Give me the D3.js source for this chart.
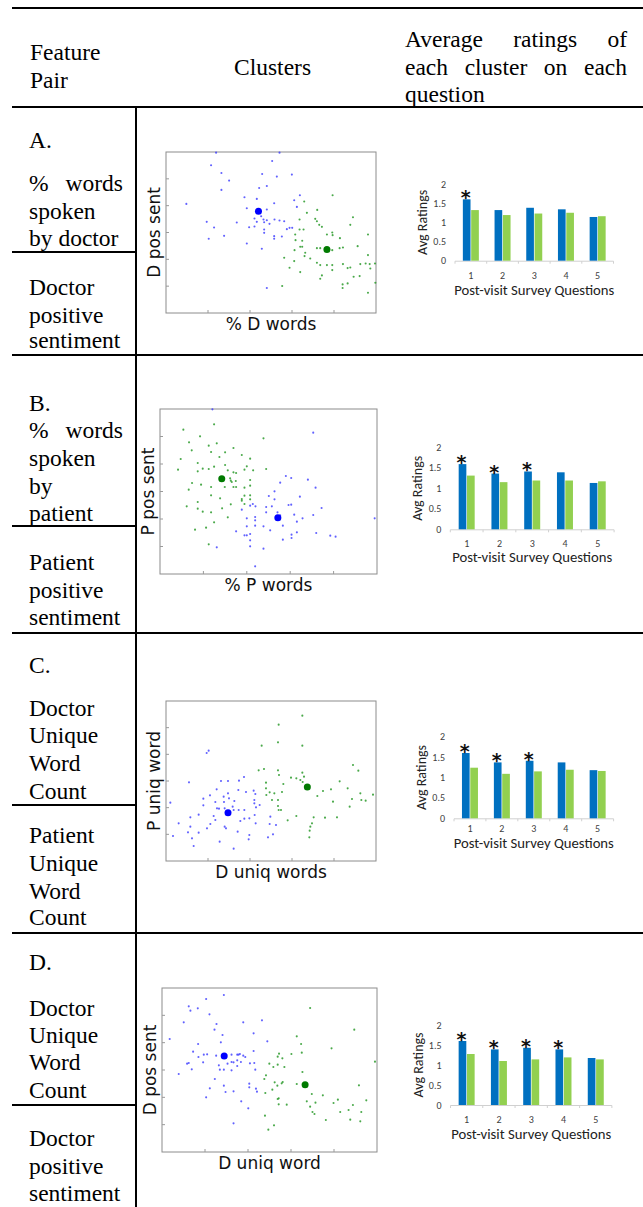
<!DOCTYPE html>
<html>
<head>
<meta charset="utf-8">
<script src="https://cdn.jsdelivr.net/npm/d3@7"></script>
<style>
body{margin:0;background:#fff}
svg{display:block}
.serif{font-family:"Liberation Serif","Times New Roman",serif}
</style>
</head>
<body>
<svg id="fig" width="643" height="1207"></svg>
<script>
// ---- data ----
var questions = ["1","2","3","4","5"];
var ratingTicks = [0,0.5,1,1.5,2];
var ratingsBlue = [
    [1.60,1.32,1.38,1.34,1.14],
    [1.59,1.36,1.41,1.39,1.13],
    [1.60,1.37,1.41,1.37,1.18],
    [1.60,1.39,1.43,1.39,1.175]
];
var ratingsGreen = [
    [1.32,1.19,1.23,1.25,1.16],
    [1.31,1.15,1.19,1.19,1.17],
    [1.24,1.09,1.15,1.19,1.16],
    [1.275,1.10,1.14,1.19,1.14]
];
var starred = [[1],[1,2,3],[1,2,3],[1,2,3,4]];

var xFeature = ["% D words","% P words","D uniq words","D uniq word"];
var yFeature = ["D pos sent","P pos sent","P uniq word","D pos sent"];
var featureMax = [[629,484],[650,495],[630,480],[643,492]];

var blueA = [[150,482],[340,482],[135,444],[318,457],[166,421],[288,418],[332,410],[377,416],[189,398],[166,370],[279,376],[302,382],[235,348],[272,343],[61,328],[324,330],[242,315],[302,311],[285,291],[265,284],[292,281],[302,279],[272,274],[325,281],[340,278],[354,276],[310,268],[294,273],[212,272],[122,274],[144,257],[249,258],[265,260],[294,251],[294,241],[362,252],[370,256],[378,256],[174,232],[128,223],[324,231],[324,223],[347,230],[242,209],[287,193],[302,75],[384,339],[392,319],[401,354]];
var greenA = [[499,354],[414,335],[422,301],[400,281],[447,283],[452,276],[459,265],[467,259],[453,310],[560,288],[552,265],[498,242],[499,234],[482,236],[521,225],[412,251],[400,251],[387,236],[388,219],[408,217],[402,199],[408,199],[385,189],[417,181],[415,171],[432,164],[452,195],[462,195],[498,189],[520,195],[530,197],[574,201],[605,236],[354,166],[384,156],[370,136],[452,151],[462,144],[482,144],[498,144],[498,129],[530,147],[544,135],[552,137],[562,109],[580,111],[582,147],[598,149],[610,147],[626,149],[605,174],[612,134],[627,91],[605,61],[529,86],[529,75],[544,89],[467,113],[462,103],[402,123],[348,81]];
var blueB = [[459,424],[377,294],[393,288],[443,283],[360,274],[343,248],[326,234],[343,224],[419,232],[466,259],[385,207],[393,208],[245,193],[270,205],[278,210],[286,203],[318,201],[335,203],[318,185],[352,185],[360,176],[260,167],[285,171],[285,161],[260,143],[285,145],[310,143],[368,145],[402,178],[410,157],[427,167],[459,177],[484,198],[330,131],[394,118],[394,108],[410,125],[468,123],[510,115],[526,112],[643,167],[228,128],[253,116],[260,116],[270,120],[270,101],[270,83],[310,76],[368,103],[170,80],[285,23],[157,494]];
var greenB = [[70,433],[162,449],[87,395],[120,413],[95,371],[146,385],[170,392],[153,366],[195,365],[220,378],[245,357],[270,346],[62,345],[54,313],[113,333],[128,316],[146,315],[113,308],[162,322],[178,351],[195,327],[203,311],[220,305],[228,303],[212,280],[227,279],[215,276],[210,287],[253,313],[260,323],[279,311],[318,315],[96,273],[86,253],[123,268],[153,261],[194,261],[220,261],[228,261],[253,259],[270,282],[270,265],[153,236],[180,227],[212,209],[245,225],[245,220],[253,235],[270,236],[253,210],[80,203],[113,216],[113,196],[128,187],[153,185],[186,197],[162,155],[203,170],[138,139],[105,133],[146,89],[270,224],[310,407]];
var blueC = [[122,324],[128,331],[69,236],[13,175],[112,187],[132,197],[152,215],[165,240],[186,240],[219,241],[234,252],[217,213],[240,207],[263,211],[268,201],[186,203],[173,193],[189,188],[205,180],[148,177],[174,177],[112,167],[153,158],[159,157],[176,158],[200,163],[203,153],[218,153],[235,153],[265,183],[265,173],[270,161],[266,138],[250,128],[269,113],[98,139],[73,131],[38,113],[73,103],[98,85],[123,98],[133,111],[148,123],[176,103],[180,98],[215,88],[223,120],[235,127],[250,78],[248,65],[21,75],[66,86],[78,68],[83,45],[161,58],[203,37],[306,71],[321,80],[330,108],[311,111],[313,133],[281,168],[143,135]];
var greenC = [[409,436],[338,409],[336,356],[409,346],[287,346],[278,272],[294,276],[336,272],[339,258],[300,235],[352,231],[375,250],[391,248],[403,243],[409,265],[414,253],[410,237],[300,218],[301,198],[311,206],[325,203],[348,207],[318,183],[336,165],[338,153],[345,153],[365,122],[336,183],[443,131],[438,113],[433,103],[431,91],[430,71],[454,195],[471,210],[495,215],[501,178],[477,130],[513,131],[521,239],[545,218],[551,163],[561,288],[577,271],[558,186],[583,203],[586,183],[599,181],[621,199],[391,135]];
var blueD = [[185,471],[80,437],[85,424],[107,431],[132,459],[142,413],[65,389],[23,339],[163,384],[157,367],[181,351],[243,389],[299,395],[274,356],[315,332],[176,329],[108,324],[93,301],[109,285],[125,292],[135,293],[162,289],[208,292],[225,292],[229,292],[233,294],[243,289],[249,285],[274,303],[80,267],[75,265],[89,248],[50,234],[123,269],[170,260],[173,247],[185,247],[196,265],[208,270],[214,269],[225,275],[225,258],[208,245],[236,270],[263,266],[276,267],[279,247],[143,191],[132,164],[185,199],[190,180],[214,182],[261,205],[261,194],[281,190],[284,181],[237,152],[258,131],[214,86],[158,219]];
var greenD = [[443,432],[575,367],[507,311],[403,347],[416,324],[387,294],[418,298],[350,295],[346,286],[360,281],[346,262],[366,255],[321,265],[333,255],[311,230],[306,219],[337,209],[358,206],[361,210],[330,187],[345,199],[403,204],[420,240],[637,271],[448,174],[481,170],[433,152],[459,148],[443,136],[450,120],[456,114],[490,96],[513,147],[526,157],[533,120],[558,126],[571,141],[589,200],[611,155],[596,120],[593,92],[563,97],[309,177],[308,109],[335,80],[318,67],[346,159],[349,161],[349,143],[373,142]];
var bluePoints = [blueA, blueB, blueC, blueD];
var greenPoints = [greenA, greenB, greenC, greenD];
var blueCentroid = [[277,306],[353,169],[186,145],[186,288]];
var greenCentroid = [[482,191],[185,286],[424,222],[428,202]];

var rowLetters = ["A.","B.","C.","D."];
var featureOne = [["% words","spoken","by doctor"],["% words","spoken","by","patient"],["Doctor","Unique","Word","Count"],["Doctor","Unique","Word","Count"]];
var featureTwo = [["Doctor","positive","sentiment"],["Patient","positive","sentiment"],["Patient","Unique","Word","Count"],["Doctor","positive","sentiment"]];

// ---- layout ----
var sans = "DejaVu Sans";
var office = "Carlito, Lato";
var BLUE = "#0070c0", GREEN = "#92d050";

var rows = [
    {split:252, bottom:355, letterY:148, oneY:[191,219,246], twoY:[295,323,348],
     frame:[166,152,376,313], bars:[455,613.5,260.7,184], catY:278.5, titleY:294.5},
    {split:526, bottom:633, letterY:411, oneY:[438,466,494,521], twoY:[570,598,625],
     frame:[160,409,377,574], bars:[450.3,614.1,529.3,447.3], catY:546.5, titleY:562},
    {split:805, bottom:933, letterY:673, oneY:[716,743,771,799], twoY:[843,871,899,925],
     frame:[166,701,376,861], bars:[454,613.6,818.3,736.7], catY:832, titleY:847.5},
    {split:1105, bottom:null, letterY:970, oneY:[1016,1043,1070,1098], twoY:[1146,1174,1201],
     frame:[162,988,377,1152], bars:[450.5,611.9,1105,1025], catY:1122.5, titleY:1139}
];

var svg = d3.select("#fig");

function line(x1,y1,x2,y2){
    svg.append("line").attr("x1",x1).attr("y1",y1).attr("x2",x2).attr("y2",y2)
        .attr("stroke","#000").attr("stroke-width",2);
}

function plain(t, x, y){
    return svg.append("text").attr("class","serif").attr("x",x).attr("y",y)
        .style("font-size","23.5px").attr("fill","#000").text(t);
}

// spread words of a line between x0 and x1 (justified text)
function justified(words, x0, x1, y){
    var nodes = words.map(function(w){ return plain(w, x0, y); });
    var widths = nodes.map(function(n){ return n.node().getComputedTextLength(); });
    var gap = (x1-x0-d3.sum(widths))/(words.length-1);
    var x = x0;
    nodes.forEach(function(n,i){ n.attr("x",x); x += widths[i]+gap; });
}

// ---- table frame + header ----
line(12,8,643,8);
line(12,107,643,107);
line(136,107,136,1207);
plain("Feature",30,60);
plain("Pair",30,88);
plain("Clusters",234,75);
justified(["Average","ratings","of"],405,627,47);
justified(["each","cluster","on","each"],405,627,75);
plain("question",405,102);

rows.forEach(function(r, i){
    line(12,r.split,136,r.split);
    if(r.bottom) line(12,r.bottom,643,r.bottom);

    plain(rowLetters[i],29,r.letterY);
    featureOne[i].forEach(function(t,j){
        if(t.indexOf(" ")>0 && j<featureOne[i].length-1) justified(t.split(" "),29,123,r.oneY[j]);
        else plain(t,29,r.oneY[j]);
    });
    featureTwo[i].forEach(function(t,j){ plain(t,29,r.twoY[j]); });

    drawScatter(i, r);
    drawBars(i, r);
});

function drawScatter(i, r){
    var f = r.frame;
    var x = d3.scaleLinear().domain([0,featureMax[i][0]]).range([f[0],f[2]]);
    var y = d3.scaleLinear().domain([0,featureMax[i][1]]).range([f[3],f[1]]);
    var g = svg.append("g");

    g.append("rect").attr("x",f[0]).attr("y",f[1]).attr("width",f[2]-f[0]).attr("height",f[3]-f[1])
        .attr("fill","#fff").attr("stroke","#8c8c8c").attr("stroke-width",1);

    var xt = d3.range(1,5).map(function(k){ return k*featureMax[i][0]/5; });
    var yt = d3.range(1,6).map(function(k){ return k*featureMax[i][1]/6; });
    g.selectAll(".xt").data(xt).enter().append("line")
        .attr("x1",x).attr("x2",x).attr("y1",f[3]).attr("y2",f[3]-3)
        .attr("stroke","#9a9a9a");
    g.selectAll(".yt").data(yt).enter().append("line")
        .attr("x1",f[0]).attr("x2",f[0]+3).attr("y1",y).attr("y2",y)
        .attr("stroke","#9a9a9a");

    g.selectAll(".b").data(bluePoints[i]).enter().append("circle")
        .attr("cx",function(d){ return x(d[0]); }).attr("cy",function(d){ return y(d[1]); })
        .attr("r",1.05).attr("fill","#3a3aff").attr("opacity",0.8);
    g.selectAll(".g").data(greenPoints[i]).enter().append("circle")
        .attr("cx",function(d){ return x(d[0]); }).attr("cy",function(d){ return y(d[1]); })
        .attr("r",1.05).attr("fill","#2a9a2a").attr("opacity",0.85);

    g.append("circle").attr("cx",x(blueCentroid[i][0])).attr("cy",y(blueCentroid[i][1]))
        .attr("r",3.5).attr("fill","#0000ff");
    g.append("circle").attr("cx",x(greenCentroid[i][0])).attr("cy",y(greenCentroid[i][1]))
        .attr("r",3.5).attr("fill","#007a00");

    g.append("text").attr("x",(f[0]+f[2])/2).attr("y",f[3]+17)
        .attr("text-anchor","middle").style("font-family",sans).style("font-size","17px")
        .attr("fill","#111").text(xFeature[i]);
    g.append("text").attr("transform","translate("+(f[0]-6)+","+((f[1]+f[3])/2)+") rotate(-90)")
        .attr("text-anchor","middle").style("font-family",sans).style("font-size","17px")
        .attr("fill","#111").text(yFeature[i]);
}

function drawBars(i, r){
    var b = r.bars;
    var x = d3.scaleBand().domain(questions).range([b[0],b[1]]);
    var inner = d3.scaleBand().domain(["blue","green"]).range([-8,8]).paddingInner(0.08);
    var y = d3.scaleLinear().domain([0,2]).range([b[2],b[3]]);
    var g = svg.append("g");

    // baseline and category separators
    g.append("line").attr("x1",b[0]).attr("x2",b[1]).attr("y1",b[2]+0.5).attr("y2",b[2]+0.5)
        .attr("stroke","#d0d0d0");
    g.selectAll(".sep").data(d3.range(0,6)).enter().append("line")
        .attr("x1",function(k){ return b[0]+k*x.step(); }).attr("x2",function(k){ return b[0]+k*x.step(); })
        .attr("y1",b[2]+0.5).attr("y2",b[2]+3).attr("stroke","#d0d0d0");

    g.selectAll(".yl").data(ratingTicks).enter().append("text")
        .attr("x",b[0]-9).attr("y",function(d){ return y(d)+3.5; })
        .attr("text-anchor","end").style("font-family",office).style("font-size","10px")
        .attr("fill","#404040").text(function(d){ return d; });

    var center = function(q){ return x(q)+x.bandwidth()/2; };
    g.selectAll(".bb").data(ratingsBlue[i]).enter().append("rect")
        .attr("x",function(d,k){ return center(questions[k])+inner("blue"); })
        .attr("width",inner.bandwidth())
        .attr("y",function(d){ return y(d); })
        .attr("height",function(d){ return y(0)-y(d); })
        .attr("fill",BLUE);
    g.selectAll(".gb").data(ratingsGreen[i]).enter().append("rect")
        .attr("x",function(d,k){ return center(questions[k])+inner("green"); })
        .attr("width",inner.bandwidth())
        .attr("y",function(d){ return y(d); })
        .attr("height",function(d){ return y(0)-y(d); })
        .attr("fill",GREEN);

    g.selectAll(".star").data(starred[i]).enter().append("text")
        .attr("x",function(q){ return center(String(q))+inner("blue")+inner.bandwidth()/2-1; })
        .attr("y",function(q){ return y(ratingsBlue[i][q-1])+5; })
        .attr("text-anchor","middle").style("font-family",sans).style("font-weight","bold")
        .style("font-size","19px").attr("fill","#111").text("*");

    g.selectAll(".cat").data(questions).enter().append("text")
        .attr("x",center).attr("y",r.catY)
        .attr("text-anchor","middle").style("font-family",office).style("font-size","10px")
        .attr("fill","#404040").text(function(d){ return d; });

    g.append("text").attr("x",(b[0]+b[1])/2).attr("y",r.titleY)
        .attr("text-anchor","middle").style("font-family",office).style("font-size","14.7px")
        .attr("fill","#222").text("Post-visit Survey Questions");
    g.append("text").attr("transform","translate("+(b[0]-28)+","+((b[2]+b[3])/2)+") rotate(-90)")
        .attr("text-anchor","middle").style("font-family",office).style("font-size","14px")
        .attr("fill","#222").text("Avg Ratings");
}
</script>
</body>
</html>
